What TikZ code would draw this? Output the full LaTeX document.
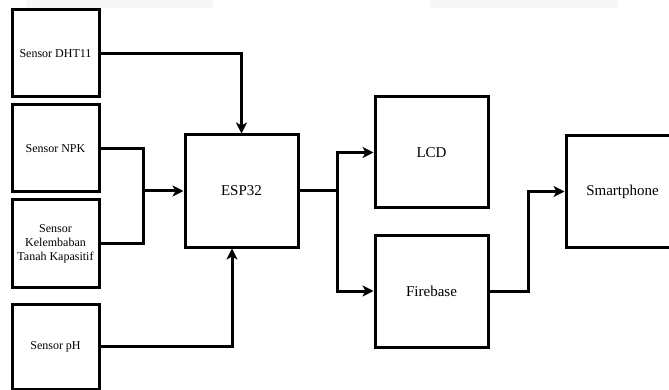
\documentclass[tikz,border=0pt]{standalone}
\usepackage{fontspec}
\setmainfont{Liberation Serif}
\usetikzlibrary{arrows.meta,positioning}
\tikzset{basic/.style={draw,line width=3pt,fill=white,align=center,inner sep=1pt}}
\tikzset{sensor/.style={basic,rectangle,minimum width=87pt,minimum height=87pt,font=\fontsize{12}{14}\selectfont}}
\tikzset{block/.style={basic,rectangle,minimum width=113pt,minimum height=111pt,font=\fontsize{15}{17}\selectfont}}
\tikzset{wire/.style={draw,line width=3pt,line join=miter}}
\tikzset{tip/.style={-{Stealth[length=11pt,width=11pt,inset=3pt]}}}

\begin{document}
\begin{tikzpicture}[x=1pt,y=-1pt]
    \useasboundingbox (0,0) rectangle (669,390);
    \fill[black!3] (26,0) rectangle (213,8);
    \fill[black!3] (430,0) rectangle (618,8);

    \node[sensor] (dht) at (55.5,53.5) {Sensor DHT11};
    \node[sensor] (npk) at (55.5,148.5) {Sensor NPK};
    \node[sensor] (soil) at (55.5,243.5) {Sensor\\Kelembaban\\Tanah Kapasitif};
    \node[sensor,minimum height=85pt] (ph) at (55.5,346.5) {Sensor pH};

    \node[block,minimum height=112pt] (esp) at (241.5,191) {ESP32};
    \node[block] (lcd) at (431.5,152.5) {LCD};
    \node[block,minimum height=112pt] (fire) at (431.5,291) {Firebase};
    \node[block] (phone) at (622.5,191.5) {Smartphone};

    \coordinate (join) at (143,191);
    \coordinate (split) at (337,191);

        \path[wire,tip] (dht.east) -| (esp.north);
        \path[wire] (npk.east) -| (join);
        \path[wire] (soil.east) -| (join);
        \path[wire,tip] (join) -- (esp.west);
        \path[wire,tip] (ph.east) -| ([xshift=-9.5pt]esp.south);
        \path[wire] (esp.east) -- (split);
        \path[wire,tip] (split) |- (lcd.west);
        \path[wire,tip] (split) |- (fire.west);
        \path[wire,tip] (fire.east) -- ++(39,0) |- (phone.west);
  \end{tikzpicture}
\end{document}
